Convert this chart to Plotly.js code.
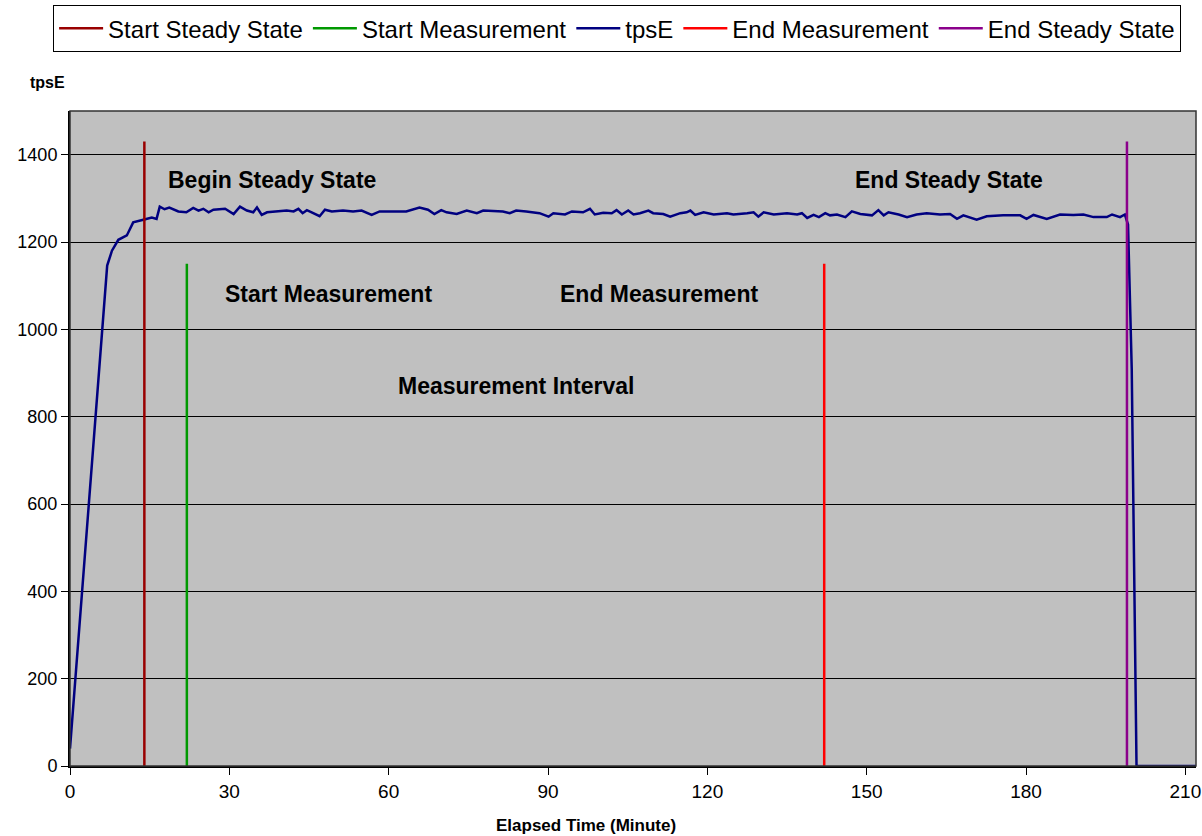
<!DOCTYPE html>
<html>
<head>
<meta charset="utf-8">
<script src="https://cdn.plot.ly/plotly-3.0.1.min.js"></script>
<style>html,body{margin:0;padding:0;background:#fff;}#chart{width:1202px;height:836px;}</style>
</head>
<body>
<div id="chart"></div>
<script>
// tpsE series (elapsed minutes, transactions per second)
const minutes = [0, 3.2, 7.0, 7.9, 9.1, 10.7, 11.9, 13.8, 15.4, 16.3, 16.9, 17.8, 18.7, 20.4, 21.9, 23.2, 24.2, 25.1, 26.1, 27.0,
  29.2, 30.8, 32.0, 33.3, 34.5, 35.2, 36.1, 37.1, 39.0, 40.8, 42.1, 43.0, 43.8, 44.6, 45.5, 47.0, 48.0, 49.3, 51.4, 53.3,
  54.9, 56.8, 58.3, 63.3, 65.8, 67.4, 68.6, 69.9, 70.9, 72.8, 74.7, 76.6, 77.8, 81.5, 82.8, 84.0, 85.9, 88.4, 90.1, 91.0,
  93.2, 94.5, 96.6, 97.9, 98.8, 100.4, 102.0, 102.9, 103.9, 105.1, 106.1, 107.3, 108.9, 109.8, 111.7, 113.0, 114.9, 116.1, 116.8, 117.7,
  119.3, 121.2, 123.7, 124.9, 127.5, 128.7, 129.6, 130.6, 132.5, 135.0, 136.9, 137.8, 138.8, 140.0, 141.0, 142.2, 143.1, 144.4, 146.0, 147.2,
  148.8, 151.0, 152.2, 153.2, 154.1, 156.0, 157.6, 159.4, 161.3, 163.8, 165.7, 167.0, 168.2, 170.7, 172.6, 175.7, 178.9, 180.1, 181.4, 183.9,
  186.4, 188.9, 190.8, 192.7, 195.2, 196.2, 197.7, 198.6, 199.2, 199.9, 200.8, 205, 212];
const tpsE = [40, 540, 1146, 1180, 1205, 1215, 1245, 1251, 1256, 1253, 1281, 1275, 1279, 1270, 1268, 1278, 1272, 1276, 1268, 1274,
  1276, 1264, 1281, 1272, 1268, 1279, 1262, 1268, 1270, 1272, 1270, 1276, 1266, 1273, 1268, 1259, 1274, 1270, 1272, 1270,
  1272, 1262, 1270, 1270, 1279, 1274, 1264, 1273, 1268, 1264, 1272, 1266, 1272, 1270, 1266, 1272, 1270, 1266, 1258, 1266,
  1263, 1270, 1268, 1276, 1263, 1267, 1266, 1273, 1263, 1272, 1263, 1266, 1272, 1266, 1264, 1258, 1266, 1268, 1272, 1262,
  1268, 1263, 1266, 1263, 1266, 1268, 1258, 1268, 1263, 1266, 1263, 1266, 1255, 1262, 1257, 1266, 1261, 1263, 1257, 1270,
  1264, 1261, 1273, 1261, 1268, 1263, 1257, 1263, 1266, 1263, 1264, 1253, 1261, 1251, 1259, 1261, 1261, 1253, 1262, 1253,
  1263, 1262, 1263, 1257, 1257, 1263, 1257, 1263, 1240, 910, 0, 0, 0];

// Marker lines (minute, height)
const startSteadyX = [14, 14];   const startSteadyY = [0, 1430];
const startMeasX   = [22, 22];   const startMeasY   = [0, 1150];
const endMeasX     = [142, 142]; const endMeasY     = [0, 1150];
const endSteadyX   = [199, 199]; const endSteadyY   = [0, 1430];

const seriesNames = ["Start Steady State", "Start Measurement", "tpsE", "End Measurement", "End Steady State"];
const xTicks = [0, 30, 60, 90, 120, 150, 180, 210];
const yTicks = [0, 200, 400, 600, 800, 1000, 1200, 1400];

// Annotation labels [text, minute, tpsE]
const labelTexts = ["Begin Steady State", "End Steady State", "Start Measurement", "End Measurement", "Measurement Interval"];
const labelX = [38, 165.5, 48.6, 110.9, 84];
const labelY = [1343, 1343, 1082, 1082, 871];

const FONT = "Liberation Sans, Arial, sans-serif";

const traces = [
  {x: minutes, y: tpsE, name: seriesNames[2], mode: "lines", line: {color: "#000080", width: 2.5}, legendrank: 3},
  {x: startSteadyX, y: startSteadyY, name: seriesNames[0], mode: "lines", line: {color: "#990000", width: 2.5}, legendrank: 1},
  {x: startMeasX, y: startMeasY, name: seriesNames[1], mode: "lines", line: {color: "#009900", width: 2.5}, legendrank: 2},
  {x: endMeasX, y: endMeasY, name: seriesNames[3], mode: "lines", line: {color: "#ff0000", width: 2.5}, legendrank: 4},
  {x: endSteadyX, y: endSteadyY, name: seriesNames[4], mode: "lines", line: {color: "#8b008b", width: 2.5}, legendrank: 5}
];

const annotations = labelTexts.map((t, i) => ({
  x: labelX[i], y: labelY[i], xref: "x", yref: "y", text: "<b>" + t + "</b>",
  showarrow: false, font: {family: FONT, size: 23, color: "#000"}
}));
annotations.push({x: -0.0372, y: 1.060, xref: "paper", yref: "paper", text: "<b>tpsE</b>", showarrow: false,
  font: {family: FONT, size: 16, color: "#000"}});
annotations.push({x: 0.458, y: -0.109, xref: "paper", yref: "paper", text: "<b>Elapsed Time (Minute)</b>", showarrow: false,
  font: {family: FONT, size: 17, color: "#000"}});

const layout = {
  width: 1202, height: 836,
  margin: {l: 70, r: 6, t: 110, b: 70},
  paper_bgcolor: "#ffffff",
  plot_bgcolor: "#c0c0c0",
  font: {family: FONT, color: "#000"},
  showlegend: true,
  legend: {
    orientation: "h", x: -0.015, xanchor: "left", y: 1.160, yanchor: "top",
    bordercolor: "#000", borderwidth: 1, bgcolor: "#fff", itemwidth: 44,
    font: {family: FONT, size: 24, color: "#000"}
  },
  xaxis: {
    range: [0, 212], tickvals: xTicks, ticktext: xTicks.map(String),
    showgrid: false, zeroline: false, showline: true, linecolor: "#000", linewidth: 2,
    ticks: "outside", ticklen: 7, tickcolor: "#000", tickwidth: 1,
    tickfont: {family: FONT, size: 19, color: "#000"}
  },
  yaxis: {
    range: [0, 1500], tickvals: yTicks, ticktext: yTicks.map(String),
    showgrid: true, gridcolor: "#000", gridwidth: 1, zeroline: false,
    showline: true, linecolor: "#000", linewidth: 2,
    ticks: "outside", ticklen: 7, tickcolor: "#000", tickwidth: 1,
    tickfont: {family: FONT, size: 18, color: "#000"}
  },
  shapes: [{type: "rect", xref: "paper", yref: "paper", x0: 0, x1: 1, y0: 0, y1: 1,
    line: {color: "#333", width: 1.5}, fillcolor: "rgba(0,0,0,0)", layer: "above"}],
  annotations: annotations
};

Plotly.newPlot("chart", traces, layout, {displayModeBar: false, staticPlot: true});
</script>
</body>
</html>
